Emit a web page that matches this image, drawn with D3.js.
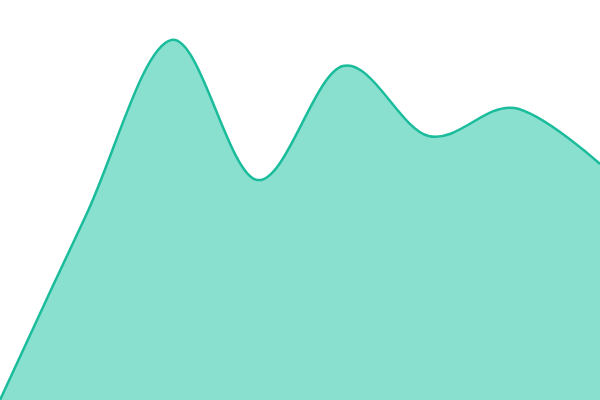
<!DOCTYPE html>
<html>
<head>
<meta charset="utf-8">
<script src="https://cdn.jsdelivr.net/npm/d3@7"></script>
<style>
  html, body { margin: 0; padding: 0; background: #fff; }
  svg { display: block; }
</style>
</head>
<body>
<div id="chart"></div>
<script>
// Data
var points = [0, 1, 2, 3, 4, 5, 6, 7];
var values = [0, 46, 90, 55, 83.5, 66, 73, 59];

var width = 600;
var height = 400;

var svg = d3
  .select("#chart")
  .append("svg")
  .attr("width", width)
  .attr("height", height);

var xScale = d3.scaleLinear().domain([0, points.length - 1]).range([0, width]);
var yScale = d3.scaleLinear().domain([0, 100]).range([height, 0]);

var data = points.map(function (p, i) {
  return { x: p, y: values[i] };
});

var area = d3
  .area()
  .x(function (d) { return xScale(d.x); })
  .y0(height)
  .y1(function (d) { return yScale(d.y); })
  .curve(d3.curveCardinal);

var line = d3
  .line()
  .x(function (d) { return xScale(d.x); })
  .y(function (d) { return yScale(d.y); })
  .curve(d3.curveCardinal);

svg
  .append("path")
  .datum(data)
  .attr("d", area)
  .style("fill", "#8ae0cf");

svg
  .append("path")
  .datum(data)
  .attr("d", line)
  .style("fill", "none")
  .style("stroke", "#1abc9c")
  .style("stroke-width", 2.5);
</script>
</body>
</html>
